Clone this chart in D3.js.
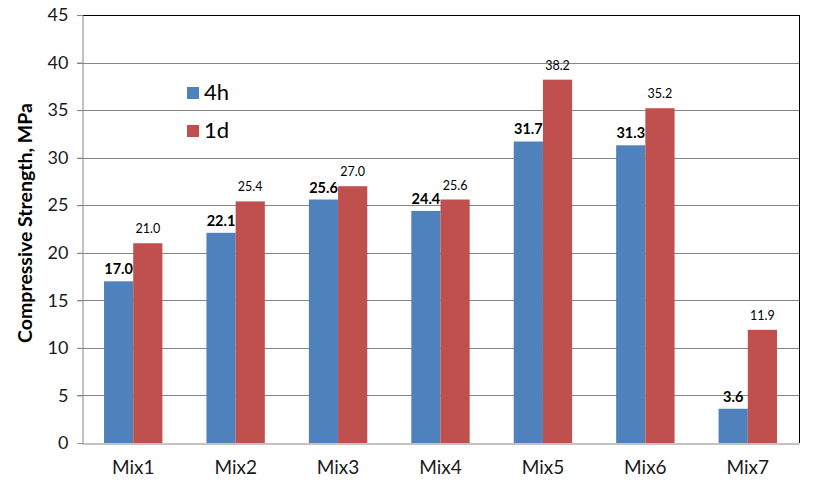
<!DOCTYPE html>
<html>
<head>
  <meta charset="utf-8">
  <style>
    body { margin: 0; background: white; font-family: Lato, "Open Sans", sans-serif; }
    .grid line { stroke: #868686; stroke-width: 1; }
    .axis text { fill: #1a1a1a; }
    .label4h { font-weight: bold; font-size: 14.5px; fill: #000; text-anchor: middle; }
    .label1d { font-size: 12.5px; fill: #000; text-anchor: middle; }
  </style>
</head>
<body>
  <div id="chart"></div>
  <script src="https://d3js.org/d3.v7.min.js"></script>
  <script>
    // chart data
    var mixes = ["Mix1", "Mix2", "Mix3", "Mix4", "Mix5", "Mix6", "Mix7"]
    var series = ["4h", "1d"]
    var strength4h = [17.0, 22.1, 25.6, 24.4, 31.7, 31.3, 3.6]
    var strength1d = [21.0, 25.4, 27.0, 25.6, 38.2, 35.2, 11.9]
    var yTicks = [0, 5, 10, 15, 20, 25, 30, 35, 40, 45]

    var colors = { "4h": "#4F81BD", "1d": "#C0504D" }

    var width = 817, height = 485
    var margin = { top: 15, right: 18, bottom: 42, left: 82 }

    var svg = d3.select("#chart").append("svg")
      .attr("width", width)
      .attr("height", height)

    var x = d3.scaleBand()
      .domain(mixes)
      .range([margin.left, width - margin.right])
      .paddingInner(0.43)
      .paddingOuter(0.215)

    var xSub = d3.scaleBand()
      .domain(series)
      .range([0, x.bandwidth()])

    var y = d3.scaleLinear()
      .domain([0, 45])
      .range([height - margin.bottom, margin.top])

    // gridlines
    svg.append("g")
      .attr("class", "grid")
      .selectAll("line")
      .data(yTicks.slice(1))
      .enter().append("line")
      .attr("x1", margin.left - 5)
      .attr("x2", width - margin.right)
      .attr("y1", function (d) { return Math.round(y(d)) + 0.5 })
      .attr("y2", function (d) { return Math.round(y(d)) + 0.5 })

    // bars
    var rows = mixes.map(function (m, i) {
      return { mix: m, values: [{ key: "4h", v: strength4h[i] }, { key: "1d", v: strength1d[i] }] }
    })

    var groups = svg.append("g")
      .selectAll("g")
      .data(rows)
      .enter().append("g")
      .attr("transform", function (d) { return "translate(" + x(d.mix) + ",0)" })

    groups.selectAll("rect")
      .data(function (d) { return d.values })
      .enter().append("rect")
      .attr("x", function (d) { return xSub(d.key) })
      .attr("width", xSub.bandwidth())
      .attr("y", function (d) { return y(d.v) })
      .attr("height", function (d) { return y(0) - y(d.v) })
      .attr("fill", function (d) { return colors[d.key] })

    groups.selectAll("text")
      .data(function (d) { return d.values })
      .enter().append("text")
      .attr("class", function (d) { return d.key == "4h" ? "label4h" : "label1d" })
      .attr("x", function (d) { return xSub(d.key) + xSub.bandwidth() / 2 })
      .attr("y", function (d) { return y(d.v) - (d.key == "4h" ? 7 : 10) })
      .text(function (d) { return d.v.toFixed(1) })

    // frame: top and right black, left and bottom gray
    svg.append("line")
      .attr("x1", margin.left).attr("x2", width - margin.right)
      .attr("y1", margin.top + 0.5).attr("y2", margin.top + 0.5)
      .attr("stroke", "#000")
    svg.append("line")
      .attr("x1", width - margin.right + 0.5).attr("x2", width - margin.right + 0.5)
      .attr("y1", margin.top).attr("y2", height - margin.bottom)
      .attr("stroke", "#000")

    // y axis
    var yAxis = svg.append("g")
      .attr("class", "axis")
      .attr("transform", "translate(" + (margin.left + 0.5) + ",0)")
      .call(d3.axisLeft(y).tickValues(yTicks).tickSize(5).tickPadding(9))
    yAxis.selectAll("path, line").attr("stroke", "#868686")
    yAxis.selectAll("text").style("font-size", "18px").style("font-family", "Lato, sans-serif")

    // x axis
    var xAxis = svg.append("g")
      .attr("class", "axis")
      .attr("transform", "translate(0," + (Math.round(y(0)) + 0.5) + ")")
      .call(d3.axisBottom(x).tickSize(0).tickPadding(17).tickSizeOuter(0))
    xAxis.select("path").attr("stroke", "#868686")
    xAxis.selectAll("text").style("font-size", "19px").style("font-family", "Lato, sans-serif")

    // y title
    svg.append("text")
      .attr("transform", "translate(32,223) rotate(-90)")
      .attr("text-anchor", "middle")
      .style("font-weight", "bold")
      .style("font-size", "19.5px")
      .text("Compressive  Strength, MPa")

    // legend
    var legend = svg.append("g")
      .selectAll("g")
      .data(series)
      .enter().append("g")
      .attr("transform", function (d, i) { return "translate(187," + (87 + i * 38) + ")" })
    legend.append("rect")
      .attr("width", 12).attr("height", 12)
      .attr("fill", function (d) { return colors[d] })
    legend.append("text")
      .attr("x", 17).attr("y", 13)
      .style("font-size", "22px")
      .text(function (d) { return d })
  </script>
</body>
</html>
